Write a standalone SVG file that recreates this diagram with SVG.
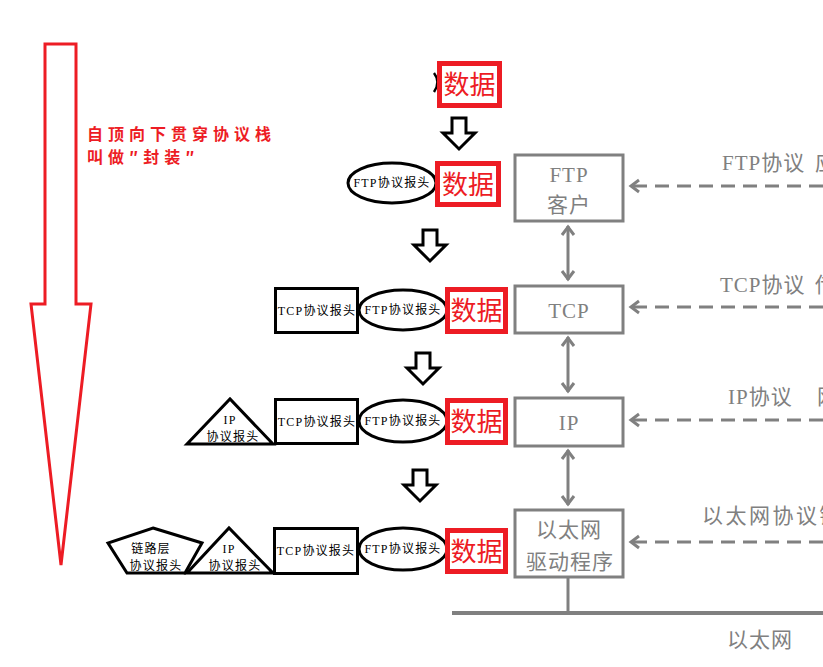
<svg xmlns="http://www.w3.org/2000/svg" width="823" height="667" viewBox="0 0 823 667">
<style>
.red-box{fill:#fff;stroke:#ED1C24;stroke-width:5}
.data{font-family:"Noto Sans CJK SC",sans-serif;font-size:26px;fill:#ED1C24;text-anchor:middle}
.blk{fill:#fff;stroke:#000;stroke-width:3}
.hdr{font-family:"Liberation Serif","Noto Sans CJK SC",serif;font-size:12px;fill:#000;text-anchor:middle;letter-spacing:1.2px}
.gbox{fill:#fff;stroke:#808080;stroke-width:3}
.gtxt{font-family:"Liberation Serif","Noto Sans CJK SC",serif;font-size:21px;fill:#808080;text-anchor:middle;letter-spacing:1px}
.lbl{font-family:"Liberation Serif","Noto Sans CJK SC",serif;font-size:21px;fill:#808080}
.dash{fill:none;stroke:#808080;stroke-width:3;stroke-dasharray:14 8;marker-end:url(#chev)}
.dbl{fill:none;stroke:#808080;stroke-width:3;marker-start:url(#chev);marker-end:url(#chev)}
.down{fill:#fff;stroke:#000;stroke-width:3;stroke-linejoin:miter}
</style>
<defs>
<marker id="chev" viewBox="-12 -8 14 16" refX="0" refY="0" markerWidth="14" markerHeight="16" markerUnits="userSpaceOnUse" orient="auto-start-reverse">
<path d="M-9,-6 L-1,0 L-9,6" fill="none" stroke="#808080" stroke-width="3" stroke-dasharray="none"/>
</marker>
<path id="downArrow" d="M-7,0 L7,0 L7,15 L16,15 L0,31 L-16,15 L-7,15 Z"/>
</defs>

<g id="encapsulation-arrow">
<path d="M45,44 L76,44 L76,304 L91,304 L61,565 L31,304 L45,304 Z" fill="none" stroke="#ED1C24" stroke-width="3"/>
<text font-family="'Noto Sans CJK SC',sans-serif" font-size="16" font-weight="bold" fill="#ED1C24" letter-spacing="5"><tspan x="87" y="140">自顶向下贯穿协议栈</tspan><tspan x="87" y="163">叫做″封装″</tspan></text>
</g>

<g id="step-arrows">
<use href="#downArrow" class="down" transform="translate(459,118)"/>
<use href="#downArrow" class="down" transform="translate(430,230)"/>
<use href="#downArrow" class="down" transform="translate(423,353)"/>
<use href="#downArrow" class="down" transform="translate(420,470)"/>
</g>

<g id="row-app">
<path d="M434,73 Q441,82 434,92" fill="none" stroke="#000" stroke-width="2.5"/>
<rect class="red-box" x="439.5" y="63.5" width="60" height="42"/>
<text class="data" x="469.5" y="94">数据</text>
</g>

<g id="row-ftp">
<ellipse class="blk" cx="392" cy="183" rx="44" ry="20"/>
<text class="hdr" x="392" y="187">FTP协议报头</text>
<rect class="red-box" x="437.5" y="163.5" width="61" height="41"/>
<text class="data" x="468" y="194">数据</text>
</g>

<g id="row-tcp">
<rect class="blk" x="275.5" y="288.5" width="82" height="44"/>
<text class="hdr" x="317" y="315">TCP协议报头</text>
<ellipse class="blk" cx="403" cy="310" rx="44" ry="20"/>
<text class="hdr" x="403" y="314">FTP协议报头</text>
<rect class="red-box" x="447.5" y="289.5" width="58" height="42"/>
<text class="data" x="476.5" y="320">数据</text>
</g>

<g id="row-ip">
<path class="blk" d="M187,444 L230,399 L273,444 Z"/>
<text class="hdr" x="230" y="424">IP</text>
<text class="hdr" x="233" y="441">协议报头</text>
<rect class="blk" x="275.5" y="399.5" width="82" height="44"/>
<text class="hdr" x="317" y="426">TCP协议报头</text>
<ellipse class="blk" cx="403" cy="421" rx="44" ry="21"/>
<text class="hdr" x="403" y="425">FTP协议报头</text>
<rect class="red-box" x="447.5" y="400.5" width="58" height="42"/>
<text class="data" x="476.5" y="431">数据</text>
</g>

<g id="row-eth">
<path class="blk" d="M153,528 L202,543 L185,573 L127,573 L108,543 Z"/>
<text class="hdr" x="151" y="553">链路层</text>
<text class="hdr" x="156" y="570">协议报头</text>
<path class="blk" d="M187,573 L229,528 L273,573 Z"/>
<text class="hdr" x="229" y="553">IP</text>
<text class="hdr" x="235" y="570">协议报头</text>
<rect class="blk" x="274.5" y="528.5" width="83" height="45"/>
<text class="hdr" x="316" y="555">TCP协议报头</text>
<ellipse class="blk" cx="403" cy="549" rx="44" ry="21"/>
<text class="hdr" x="403" y="553">FTP协议报头</text>
<rect class="red-box" x="447.5" y="530.5" width="58" height="41"/>
<text class="data" x="476.5" y="561">数据</text>
</g>

<g id="node-ftp">
<rect class="gbox" x="515" y="155" width="108" height="66"/>
<text class="gtxt" x="569" y="182">FTP</text>
<text class="gtxt" x="569" y="212">客户</text>
</g>
<g id="node-tcp">
<rect class="gbox" x="515" y="286" width="108" height="47"/>
<text class="gtxt" x="569" y="318">TCP</text>
</g>
<g id="node-ip">
<rect class="gbox" x="515" y="398" width="108" height="48"/>
<text class="gtxt" x="569" y="430">IP</text>
</g>
<g id="node-eth">
<rect class="gbox" x="515" y="510" width="108" height="67"/>
<text class="gtxt" x="569" y="537">以太网</text>
<text class="gtxt" x="570" y="569">驱动程序</text>
</g>

<g id="connectors">
<path class="dbl" d="M568,226 L568,280"/>
<path class="dbl" d="M568,337 L568,392"/>
<path class="dbl" d="M568,450 L568,505"/>
<path class="dash" d="M823,186 L630,186"/>
<path class="dash" d="M823,307 L630,307"/>
<path class="dash" d="M823,420 L630,420"/>
<path class="dash" d="M823,542 L630,542"/>
<path d="M568,578 L568,613" fill="none" stroke="#808080" stroke-width="3"/>
<path d="M452,613 L823,613" fill="none" stroke="#808080" stroke-width="4"/>
</g>

<g id="labels">
<text class="lbl" x="722" y="170" letter-spacing="1">FTP协议<tspan x="815">应</tspan></text>
<text class="lbl" x="720" y="292" letter-spacing="1">TCP协议<tspan x="815">传</tspan></text>
<text class="lbl" x="728" y="404" letter-spacing="1">IP协议<tspan x="817">网</tspan></text>
<text class="lbl" x="702" y="523" letter-spacing="2.5">以太网协议链</text>
<text class="lbl" x="727" y="647" letter-spacing="1">以太网</text>
</g>
</svg>
